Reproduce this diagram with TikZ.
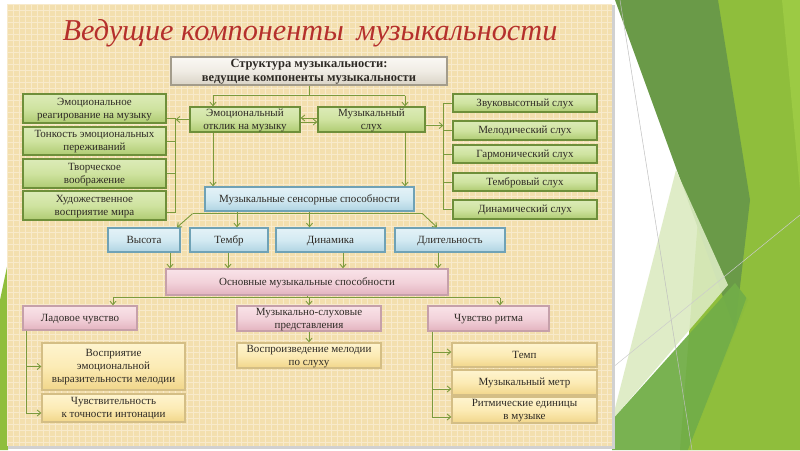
\documentclass[tikz,border=0pt]{standalone}
\usepackage{fontspec}
\setmainfont{Liberation Serif}
\usetikzlibrary{arrows.meta,shadows}
\definecolor{panel}{HTML}{F3DFAE}
\definecolor{gridc}{HTML}{F8EACB}
\definecolor{titlec}{HTML}{B5302C}
\definecolor{txt}{HTML}{2E2A25}
\definecolor{conc}{HTML}{7B9A3C}
\definecolor{gtop}{HTML}{DCEBB8}
\definecolor{gmid}{HTML}{CFE3A0}
\definecolor{gbot}{HTML}{AFCB72}
\definecolor{gbord}{HTML}{6E8F3A}
\definecolor{btop}{HTML}{E4F2F7}
\definecolor{bmid}{HTML}{D3EAF2}
\definecolor{bbot}{HTML}{AFD3E2}
\definecolor{bbord}{HTML}{6FA2B6}
\definecolor{ptop}{HTML}{F9E3E8}
\definecolor{pmid}{HTML}{F2D2DA}
\definecolor{pbot}{HTML}{E3B3BF}
\definecolor{pbord}{HTML}{C6A0AA}
\definecolor{ytop}{HTML}{FEF4CF}
\definecolor{ymid}{HTML}{FCEBB5}
\definecolor{ybot}{HTML}{F1D68A}
\definecolor{ybord}{HTML}{D4BE85}
\definecolor{ttop}{HTML}{FAF8F4}
\definecolor{tmid}{HTML}{F0ECE4}
\definecolor{tbot}{HTML}{D9D3C6}
\definecolor{tbord}{HTML}{A39C8B}
\definecolor{dkgreen}{HTML}{6A9A48}
\definecolor{ygreen}{HTML}{8FBE3C}
\definecolor{ygreen2}{HTML}{9CCA44}
\definecolor{mgreen}{HTML}{72AE48}
\definecolor{pgreen}{HTML}{DCEBC2}
\tikzset{
  box/.style={draw, line width=1.3pt, text=txt, align=center, inner sep=0.5pt,
    font=\fontsize{11}{12.8}\selectfont, text depth=1pt,
    drop shadow={opacity=0.35, shadow xshift=1.2pt, shadow yshift=-1.2pt}},
  gbox/.style={box, draw=gbord, top color=gtop, bottom color=gbot, middle color=gmid},
  bbox/.style={box, draw=bbord, top color=btop, bottom color=bbot, middle color=bmid},
  pbox/.style={box, draw=pbord, top color=ptop, bottom color=pbot, middle color=pmid},
  ybox/.style={box, draw=ybord, top color=ytop, bottom color=ybot, middle color=ymid},
  tbox/.style={box, draw=tbord, top color=ttop, bottom color=tbot, middle color=tmid,
    font=\bfseries\fontsize{12.5}{13.5}\selectfont},
  conn/.style={draw=conc, line width=0.9pt},
  arr/.style={conn, -{Straight Barb[length=3.5pt,width=6pt]}},
}
\begin{document}
\begin{tikzpicture}[x=1pt,y=-1pt]
\useasboundingbox (0,0) rectangle (800,450);
% slide background and decoration
\fill[white] (0,0) rectangle (800,450);
\fill[ygreen] (715,0) -- (800,0) -- (800,450) -- (680,450) -- cycle;
\fill[ygreen2] (782,0) -- (800,0) -- (800,190) -- cycle;
\fill[dkgreen] (615,0) -- (718,0) -- (750,200) -- (735,330) -- cycle;
\fill[pgreen, opacity=0.9] (676,170) -- (728,285) -- (612,420) -- cycle;
\fill[mgreen, opacity=0.95] (612,420) -- (735,283) -- (748,300) -- (688,450) -- (612,450) -- cycle;
\fill[ygreen, opacity=0.85] (735,330) -- (760,260) -- (800,230) -- (800,450) -- (688,450) -- cycle;
\draw[black!25, line width=0.5pt] (620,0) -- (692,450);
\draw[black!20, line width=0.5pt] (612,368) -- (800,215);
\fill[ygreen] (0,300) -- (8,262) -- (8,450) -- (0,450) -- cycle;
% panel
\fill[black!18] (8,5) rectangle (615,449);
\begin{scope}
\clip (7,4) rectangle (612,446);
\fill[panel] (7,4) rectangle (612,446);
\foreach \i in {0,...,101} \draw[gridc, line width=0.7pt] (7+\i*6,4) -- (7+\i*6,446);
\foreach \j in {0,...,74} \draw[gridc, line width=0.7pt] (7,4+\j*6) -- (612,4+\j*6);
\end{scope}
% title
\node[text=titlec, font=\itshape\fontsize{30.3}{34}\selectfont] (title) at (310,33) {Ведущие компоненты\, музыкальности};
% boxes
\node[tbox, minimum width=276, minimum height=28] (top) at (309,71) {Структура музыкальности:\\ведущие компоненты музыкальности};
\node[gbox, minimum width=110, minimum height=25] (emo) at (245,119.5) {Эмоциональный\\отклик на музыку};
\node[gbox, minimum width=107, minimum height=25] (muz) at (371.5,119.5) {Музыкальный\\слух};
\node[gbox, minimum width=143, minimum height=29] (L1) at (94.5,108.5) {Эмоциональное\\реагирование на музыку};
\node[gbox, minimum width=143, minimum height=28] (L2) at (94.5,141) {Тонкость эмоциональных\\переживаний};
\node[gbox, minimum width=143, minimum height=29] (L3) at (94.5,173.5) {Творческое\\воображение};
\node[gbox, minimum width=143, minimum height=29] (L4) at (94.5,205.5) {Художественное\\восприятие мира};
\node[gbox, minimum width=144, minimum height=18] (R1) at (525,103) {Звуковысотный слух};
\node[gbox, minimum width=144, minimum height=19] (R2) at (525,130.5) {Мелодический слух};
\node[gbox, minimum width=144, minimum height=18] (R3) at (525,154) {Гармонический слух};
\node[gbox, minimum width=144, minimum height=18] (R4) at (525,182) {Тембровый слух};
\node[gbox, minimum width=144, minimum height=19] (R5) at (525,209.5) {Динамический слух};
\node[bbox, minimum width=209, minimum height=24] (sens) at (309.5,199) {Музыкальные сенсорные способности};
\node[bbox, minimum width=72, minimum height=24] (vys) at (144,240) {Высота};
\node[bbox, minimum width=78, minimum height=24] (tembr) at (229,240) {Тембр};
\node[bbox, minimum width=109, minimum height=24] (din) at (330.5,240) {Динамика};
\node[bbox, minimum width=110, minimum height=24] (dlit) at (450,240) {Длительность};
\node[pbox, minimum width=282, minimum height=26] (osn) at (307,282) {Основные музыкальные способности};
\node[pbox, minimum width=114, minimum height=24] (lad) at (80,318) {Ладовое чувство};
\node[pbox, minimum width=144, minimum height=25] (mss) at (309,318.5) {Музыкально-слуховые\\представления};
\node[pbox, minimum width=121, minimum height=25] (ritm) at (488.5,318.5) {Чувство ритма};
\node[ybox, minimum width=143, minimum height=47] (Y1) at (113.5,366.5) {Восприятие\\эмоциональной\\выразительности мелодии};
\node[ybox, minimum width=143, minimum height=28] (Y2) at (113.5,408) {Чувствительность\\к точности интонации};
\node[ybox, minimum width=144, minimum height=25] (vosp) at (309,355.5) {Воспроизведение мелодии\\по слуху};
\node[ybox, minimum width=145, minimum height=24] (temp) at (524.5,355) {Темп};
\node[ybox, minimum width=145, minimum height=25] (metr) at (524.5,382.5) {Музыкальный метр};
\node[ybox, minimum width=145, minimum height=26] (red) at (524.5,410) {Ритмические единицы\\в музыке};
% connectors: top
\coordinate (j1) at ([yshift=-10pt]top.south);
\coordinate (ea) at ([xshift=-32pt]emo.north);
\coordinate (ma) at ([xshift=33.5pt]muz.north);
\draw[conn] (top.south) -- (j1);
\draw[conn] (ea |- j1) -- (ma |- j1);
\draw[arr] (ea |- j1) -- (ea);
\draw[arr] (ma |- j1) -- (ma);
\draw[arr] ([yshift=1.5pt]muz.west) -- ([yshift=1.5pt]emo.east);
\draw[arr] ([yshift=-2.5pt]emo.east) -- ([yshift=-2.5pt]muz.west);
% left bracket
\coordinate (bl) at ([xshift=9pt]L1.east);
\draw[conn] ([yshift=-9.5pt]L1.east) -- ([yshift=-9.5pt]bl) |- ([yshift=-6.5pt]L4.east);
\draw[conn] (L2.east) -- (L2.east -| bl);
\draw[conn] (L3.east) -- (L3.east -| bl);
\draw[arr] (emo.west) -- (emo.west -| bl);
% right bracket
\coordinate (br) at ([xshift=-9pt]R1.west);
\draw[conn] (R1.west) -- (br) |- (R5.west);
\draw[conn] (R2.west) -- (R2.west -| br);
\draw[conn] (R3.west) -- (R3.west -| br);
\draw[conn] (R4.west) -- (R4.west -| br);
\draw[arr] ([yshift=-6pt]muz.east) -- ([yshift=-6pt]muz.east -| br);
% down to sensory
\draw[arr] (ea |- emo.south) -- (ea |- sens.north);
\draw[arr] (ma |- muz.south) -- (ma |- sens.north);
% sensory to row
\coordinate (s1) at ([xshift=-117pt,yshift=-2pt]sens.south);
\coordinate (s2) at ([xshift=113pt,yshift=-2pt]sens.south);
\draw[conn] (s1) -- (s2);
\draw[arr] (s1) -- ([xshift=33pt]vys.north);
\draw[arr] (s2) -- ([xshift=-13pt]dlit.north);
\coordinate (t1) at ([xshift=8pt]tembr.north);
\draw[arr] (t1 |- sens.south) -- (t1);
\draw[arr] (sens.south) -- (sens.south |- din.north);
% row to osn
\coordinate (v1) at ([xshift=26pt]vys.south);
\coordinate (v2) at ([xshift=-1pt]tembr.south);
\coordinate (v3) at ([xshift=12.5pt]din.south);
\coordinate (v4) at ([xshift=-12pt]dlit.south);
\draw[arr] (v1) -- (v1 |- osn.north);
\draw[arr] (v2) -- (v2 |- osn.north);
\draw[arr] (v3) -- (v3 |- osn.north);
\draw[arr] (v4) -- (v4 |- osn.north);
% osn to second row
\coordinate (o1) at ([yshift=-2pt]osn.south);
\coordinate (p1) at ([xshift=33pt]lad.north);
\coordinate (p3) at ([xshift=11.5pt]ritm.north);
\draw[conn] (osn.south) -- (o1);
\draw[conn] (p1 |- o1) -- (p3 |- o1);
\draw[arr] (p1 |- o1) -- (p1);
\draw[arr] (mss.north |- o1) -- (mss.north);
\draw[arr] (p3 |- o1) -- (p3);
% lad bracket
\coordinate (l1) at ([xshift=4pt]lad.south west);
\draw[arr] (l1) |- (Y1.west);
\draw[arr] (l1) |- ([yshift=-5pt]Y2.west);
% mss
\draw[arr] (mss.south) -- (vosp.north);
% ritm bracket
\coordinate (r1) at ([xshift=5pt]ritm.south west);
\draw[arr] (r1) |- ([yshift=3pt]temp.west);
\draw[arr] (r1) |- ([yshift=-6.5pt]metr.west);
\draw[arr] (r1) |- ([yshift=-7pt]red.west);
\end{tikzpicture}
\end{document}
